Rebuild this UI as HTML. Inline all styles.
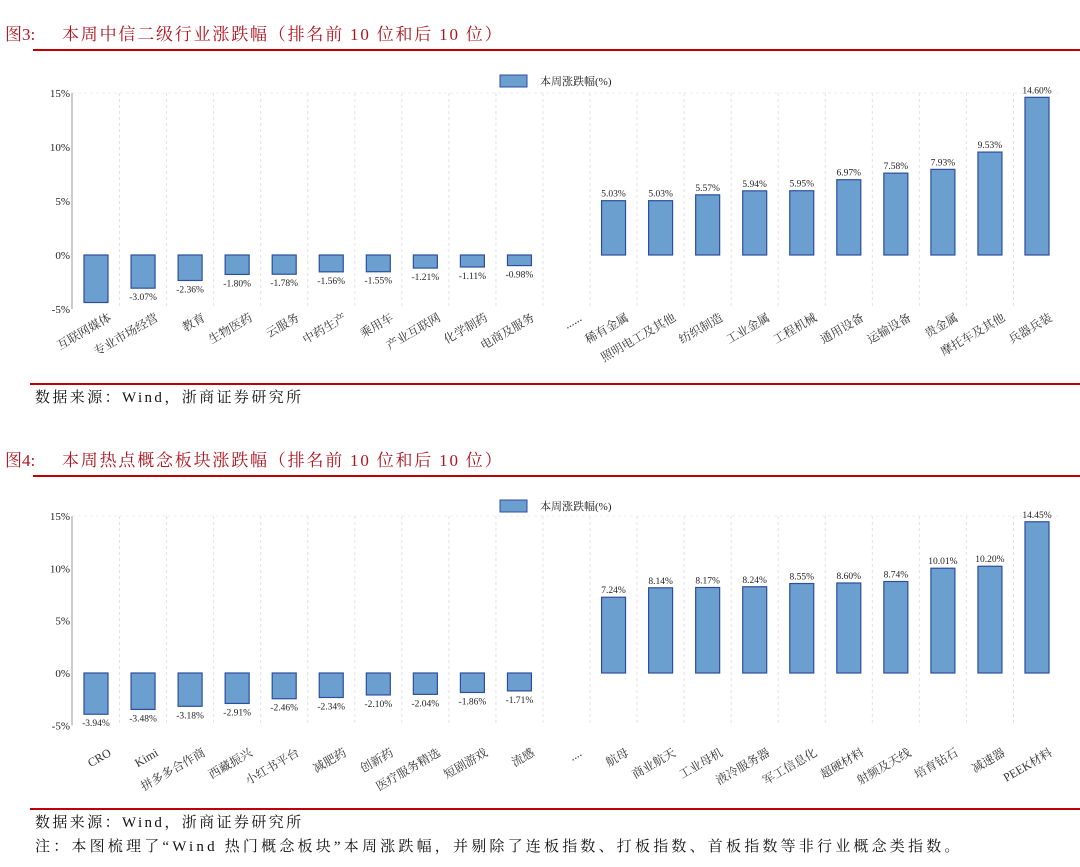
<!DOCTYPE html>
<html><head><meta charset="utf-8">
<style>
body{margin:0;background:#fff;width:1080px;height:867px;overflow:hidden;font-family:"Liberation Serif","Noto Serif CJK SC",serif;}
svg{position:absolute;left:0;top:0}
</style></head>
<body>
<svg id="s" width="1080" height="867" xmlns="http://www.w3.org/2000/svg"></svg>
<script>
const cats1=["互联网媒体","专业市场经营","教育","生物医药","云服务","中药生产","乘用车","产业互联网","化学制药","电商及服务","......","稀有金属","照明电工及其他","纺织制造","工业金属","工程机械","通用设备","运输设备","贵金属","摩托车及其他","兵器兵装"];
const vals1=[-4.4,-3.07,-2.36,-1.80,-1.78,-1.56,-1.55,-1.21,-1.11,-0.98,null,5.03,5.03,5.57,5.94,5.95,6.97,7.58,7.93,9.53,14.60];
const cats2=["CRO","Kimi","拼多多合作商","西藏振兴","小红书平台","减肥药","创新药","医疗服务精选","短剧游戏","流感","....","航母","商业航天","工业母机","液冷服务器","军工信息化","超硬材料","射频及天线","培育钻石","减速器","PEEK材料"];
const vals2=[-3.94,-3.48,-3.18,-2.91,-2.46,-2.34,-2.10,-2.04,-1.86,-1.71,null,7.24,8.14,8.17,8.24,8.55,8.60,8.74,10.01,10.20,14.45];
const ticks=[-5,0,5,10,15];
const NS="http://www.w3.org/2000/svg";
const svg=document.getElementById('s');
function el(t,a,p){const e=document.createElementNS(NS,t);for(const k in a)e.setAttribute(k,a[k]);(p||svg).appendChild(e);return e;}
function txt(x,y,s,a,p){const e=el('text',Object.assign({x:x,y:y},a),p);e.textContent=s;return e;}

function chart(id,title,ty,cats,vals,yTop,yZero,leg,labY,srcY,showFirst){
  const g=el('g',{});
  
  
  const t1=txt(5,ty,title[0],{'font-size':17,fill:'#b0141e'},g);
  
  const t=txt(62,ty,title[1],{'font-size':17,'letter-spacing':1.8,fill:'#b0141e'},g);
  
  const r1=el('rect',{x:33,y:ty+9,width:1047,height:2,fill:'#c00000'},g);
  
  const ppu=(yZero-yTop)/15;
  const y=v=>yZero-v*ppu;
  const x0=72,x1=1060,step=47.05,c0=96;
  const xc=i=>c0+i*step;
  for(let i=0;i<=cats.length;i++){const gx=xc(i)-step/2; if(gx>x0+2&&gx<x1) el('line',{x1:gx,y1:y(15),x2:gx,y2:y(-5),stroke:'#e2e2e2','stroke-dasharray':'3,3'},g);}
  el('line',{x1:x0,y1:y(15),x2:x1,y2:y(15),stroke:'#eee','stroke-dasharray':'3,3'},g);
  ticks.forEach(v=>{
    const tl=txt(x0-2,y(v)+4,v+'%',{'font-size':11,'text-anchor':'end',fill:'#222'},g);
    
  });
  el('line',{x1:x0,y1:y(15),x2:x0,y2:y(-5),stroke:'#999'},g);
  const lr=el('rect',{x:500,y:leg-6,width:27,height:12,fill:'#6a9fd0',stroke:'#2d4e9e'},g);
  
  const lt=txt(540,leg+4,'本周涨跌幅(%)',{'font-size':11,fill:'#222'},g);
  
  vals.forEach((v,i)=>{
    const cx=xc(i);
    if(v!==null){
      const top=Math.min(y(v),y(0)),h=Math.abs(y(v)-y(0));
      const b=el('rect',{x:cx-12,y:top,width:24,height:h,fill:'#6a9fd0',stroke:'#2d4e9e','stroke-width':1.2},g);
      
      if(i>0||showFirst){
        const vl=txt(cx,v>=0?y(v)-4:y(v)+12,v.toFixed(2)+'%',{'font-size':9.5,'text-anchor':'middle',fill:'#222'},g);
        
      }
    }
    const cl=txt(cx+16,labY,cats[i],{'font-size':12,'text-anchor':'end',fill:'#333',transform:`rotate(-30 ${cx+16} ${labY})`},g);
    
  });
  const r2=el('rect',{x:30,y:srcY-16,width:1050,height:2,fill:'#c00000'},g);
  
  const st=txt(35,srcY+3,'数据来源：Wind，浙商证券研究所',{'font-size':15,'letter-spacing':2.4,fill:'#111'},g);
  
}
chart('chart-industry',['图3:','本周中信二级行业涨跌幅（排名前 10 位和后 10 位）'],40,cats1,vals1,93,255,81,320,399,false);
chart('chart-concept',['图4:','本周热点概念板块涨跌幅（排名前 10 位和后 10 位）'],466,cats2,vals2,516,673,506,755,824,true);
const n=txt(35,851,'注：本图梳理了“Wind 热门概念板块”本周涨跌幅，并剔除了连板指数、打板指数、首板指数等非行业概念类指数。',{'font-size':15,'letter-spacing':3.2,fill:'#111'});


</script>
</body></html>
